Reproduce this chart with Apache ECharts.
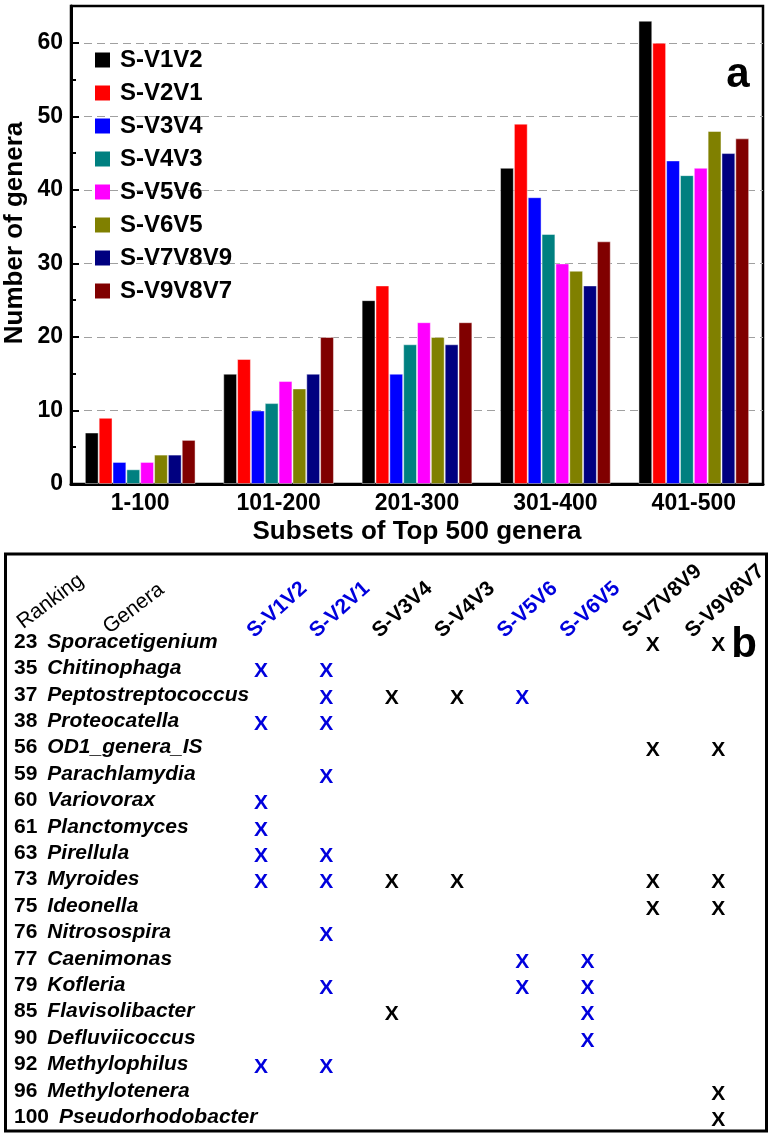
<!DOCTYPE html>
<html>
<head>
<meta charset="utf-8">
<title>Top 500 genera</title>
<script src="https://cdn.jsdelivr.net/npm/echarts@6/dist/echarts.min.js"></script>
<style>
  html, body { margin: 0; padding: 0; background: #fff; }
  #chart { width: 772px; height: 1139px; }
</style>
</head>
<body>
<div id="chart"></div>
<script>
// panel a: number of genera per subset of the top 500
var subsets = ['1-100', '101-200', '201-300', '301-400', '401-500']
var methods = ['S-V1V2', 'S-V2V1', 'S-V3V4', 'S-V4V3', 'S-V5V6', 'S-V6V5', 'S-V7V8V9', 'S-V9V8V7']
var sV1V2 = [7, 15, 25, 43, 63]
var sV2V1 = [9, 17, 27, 49, 60]
var sV3V4 = [3, 10, 15, 39, 44]
var sV4V3 = [2, 11, 19, 34, 42]
var sV5V6 = [3, 14, 22, 30, 43]
var sV6V5 = [4, 13, 20, 29, 48]
var sV7V8V9 = [4, 15, 19, 27, 45]
var sV9V8V7 = [6, 20, 22, 33, 47]

// panel b: genera found (X) by each method, by ranking
var ranks = [23, 35, 37, 38, 56, 59, 60, 61, 63, 73, 75, 76, 77, 79, 85, 90, 92, 96, 100]
var genera = ['Sporacetigenium', 'Chitinophaga', 'Peptostreptococcus', 'Proteocatella', 'OD1_genera_IS',
  'Parachlamydia', 'Variovorax', 'Planctomyces', 'Pirellula', 'Myroides', 'Ideonella', 'Nitrosospira',
  'Caenimonas', 'Kofleria', 'Flavisolibacter', 'Defluviicoccus', 'Methylophilus', 'Methylotenera',
  'Pseudorhodobacter']
var marksV1V2 = [35, 38, 60, 61, 63, 73, 92]
var marksV2V1 = [35, 37, 38, 59, 63, 73, 76, 79, 92]
var marksV3V4 = [37, 73, 85]
var marksV4V3 = [37, 73]
var marksV5V6 = [37, 77, 79]
var marksV6V5 = [77, 79, 85, 90]
var marksV7V8V9 = [23, 56, 73, 75]
var marksV9V8V7 = [23, 56, 73, 75, 96, 100]

var barValues = [sV1V2, sV2V1, sV3V4, sV4V3, sV5V6, sV6V5, sV7V8V9, sV9V8V7]
var marks = [marksV1V2, marksV2V1, marksV3V4, marksV4V3, marksV5V6, marksV6V5, marksV7V8V9, marksV9V8V7]
var barColors = ['#000000', '#ff0000', '#0000ff', '#008080', '#ff00ff', '#808000', '#000080', '#800000']
var headColors = ['#0000dd', '#0000dd', '#000000', '#000000', '#0000dd', '#0000dd', '#000000', '#000000']
var FONT = 'Liberation Sans, Arial, sans-serif'

var markData = []
marks.forEach(function(list, i) {
  list.forEach(function(r) {
    markData.push({
      value: [i, ranks.indexOf(r)],
      label: {
        show: true,
        color: headColors[i],
        fontSize: 21,
        fontWeight: 'bold',
        fontFamily: FONT,
        opacity: 1
      }
    })
  })
})

var chart = echarts.init(document.getElementById('chart'))

var series = methods.map(function(m, i) {
  return {
    name: m,
    type: 'bar',
    xAxisIndex: 0,
    yAxisIndex: 0,
    data: barValues[i],
    barGap: '0%',
    barCategoryGap: '20%',
    itemStyle: {
      color: barColors[i],
      borderColor: 'rgba(255,255,255,0.45)',
      borderWidth: 1
    }
  }
})

series.push({
  name: 'marks',
  type: 'scatter',
  xAxisIndex: 1,
  yAxisIndex: 2,
  symbolSize: 1,
  itemStyle: { color: 'rgba(255,255,255,0)', opacity: 1 },
  label: {
    show: true,
    position: 'inside',
    formatter: 'X',
    offset: [0, 3]
  },
  data: markData
})

chart.setOption({
  animation: false,
  backgroundColor: '#fff',
  textStyle: { fontFamily: FONT },
  grid: [
    { left: 71, top: 6, width: 692, height: 478, show: true, borderColor: '#000', borderWidth: 2.5,
      containLabel: false, outerBoundsMode: 'none' },
    { left: 228.4, top: 628.8, width: 522.4, height: 501.6, containLabel: false, outerBoundsMode: 'none' },
    { left: 219, top: 640, width: 500.8, height: 10, containLabel: false, outerBoundsMode: 'none' }
  ],
  legend: {
    data: methods,
    orient: 'vertical',
    left: 95,
    top: 48,
    padding: 0,
    itemWidth: 15,
    itemHeight: 15,
    itemGap: 9,
    icon: 'rect',
    selectedMode: false,
    itemStyle: { borderWidth: 0 },
    textStyle: {
      fontSize: 24,
      fontWeight: 'bold',
      color: '#000',
      fontFamily: FONT,
      lineHeight: 23,
      padding: [0, 0, 0, 5]
    }
  },
  xAxis: [
    {
      gridIndex: 0,
      type: 'category',
      data: subsets,
      axisTick: { show: false },
      axisLine: { lineStyle: { color: '#000', width: 3 } },
      axisLabel: { interval: 0, margin: 8, color: '#000', fontSize: 23, fontWeight: 'bold', fontFamily: FONT },
      name: 'Subsets of Top 500 genera',
      nameLocation: 'middle',
      nameGap: 35,
      nameMoveOverlap: false,
      nameTextStyle: { color: '#000', fontSize: 26, fontWeight: 'bold', fontFamily: FONT }
    },
    {
      gridIndex: 1,
      type: 'category',
      data: methods,
      show: false
    },
    {
      gridIndex: 2,
      type: 'category',
      data: methods,
      position: 'top',
      axisLine: { show: false },
      axisTick: { show: false },
      splitLine: { show: false },
      axisLabel: {
        interval: 0,
        rotate: 42,
        margin: 6,
        fontSize: 21,
        fontWeight: 'bold',
        fontFamily: FONT,
        color: function(value, index) {
          return headColors[index]
        }
      }
    }
  ],
  yAxis: [
    {
      gridIndex: 0,
      type: 'value',
      position: 'left',
      min: 0,
      max: 65,
      interval: 10,
      axisLine: { show: true, lineStyle: { color: '#000', width: 3 } },
      axisTick: { show: true, inside: true, length: 8, lineStyle: { color: '#000', width: 2 } },
      axisLabel: { showMaxLabel: false, margin: 8, color: '#000', fontSize: 23, fontWeight: 'bold', fontFamily: FONT },
      splitLine: { show: true, showMinLine: false, showMaxLine: false,
        lineStyle: { type: [8, 5], color: '#a0a0a0', width: 1 } },
      name: 'Number of genera',
      nameLocation: 'middle',
      nameGap: 43,
      nameMoveOverlap: false,
      nameTextStyle: { color: '#000', fontSize: 26, fontWeight: 'bold', fontFamily: FONT, padding: [0, 0, 0, 24] }
    },
    {
      gridIndex: 0,
      type: 'value',
      position: 'left',
      min: 0,
      max: 65,
      interval: 5,
      axisLine: { show: false },
      axisTick: { show: true, inside: true, length: 5, lineStyle: { color: '#000', width: 2 } },
      axisLabel: { show: false },
      splitLine: { show: false }
    },
    {
      gridIndex: 1,
      type: 'category',
      data: genera,
      inverse: true,
      axisLine: { show: false },
      axisTick: { show: false },
      splitLine: { show: false },
      axisLabel: {
        interval: 0,
        align: 'left',
        margin: 214.4,
        formatter: function(value, index) {
          return '{r|' + ranks[index] + '}{g|' + value + '}'
        },
        rich: {
          r: { fontSize: 21, fontWeight: 'bold', color: '#000', fontFamily: FONT, padding: [0, 10, 0, 0] },
          g: { fontSize: 21, fontWeight: 'bold', fontStyle: 'italic', color: '#000', fontFamily: FONT }
        }
      }
    },
    {
      gridIndex: 2,
      type: 'value',
      show: false
    }
  ],
  graphic: [
    {
      type: 'rect',
      shape: { x: 5.5, y: 554, width: 761, height: 577 },
      style: { fill: 'none', stroke: '#000', lineWidth: 3 }
    },
    {
      type: 'text', x: 738, y: 75,
      style: { text: 'a', font: 'bold 42px ' + FONT, fill: '#000',
        align: 'center', verticalAlign: 'middle', textAlign: 'center', textVerticalAlign: 'middle' }
    },
    {
      type: 'text', x: 744, y: 645,
      style: { text: 'b', font: 'bold 42px ' + FONT, fill: '#000',
        align: 'center', verticalAlign: 'middle', textAlign: 'center', textVerticalAlign: 'middle' }
    },
    {
      type: 'text', x: 26, y: 633, rotation: 37 * Math.PI / 180,
      style: { text: 'Ranking', font: '21px ' + FONT, fill: '#000',
        align: 'left', verticalAlign: 'bottom', textAlign: 'left', textVerticalAlign: 'bottom' }
    },
    {
      type: 'text', x: 112, y: 638, rotation: 37 * Math.PI / 180,
      style: { text: 'Genera', font: '21px ' + FONT, fill: '#000',
        align: 'left', verticalAlign: 'bottom', textAlign: 'left', textVerticalAlign: 'bottom' }
    }
  ],
  series: series
})
</script>
</body>
</html>
